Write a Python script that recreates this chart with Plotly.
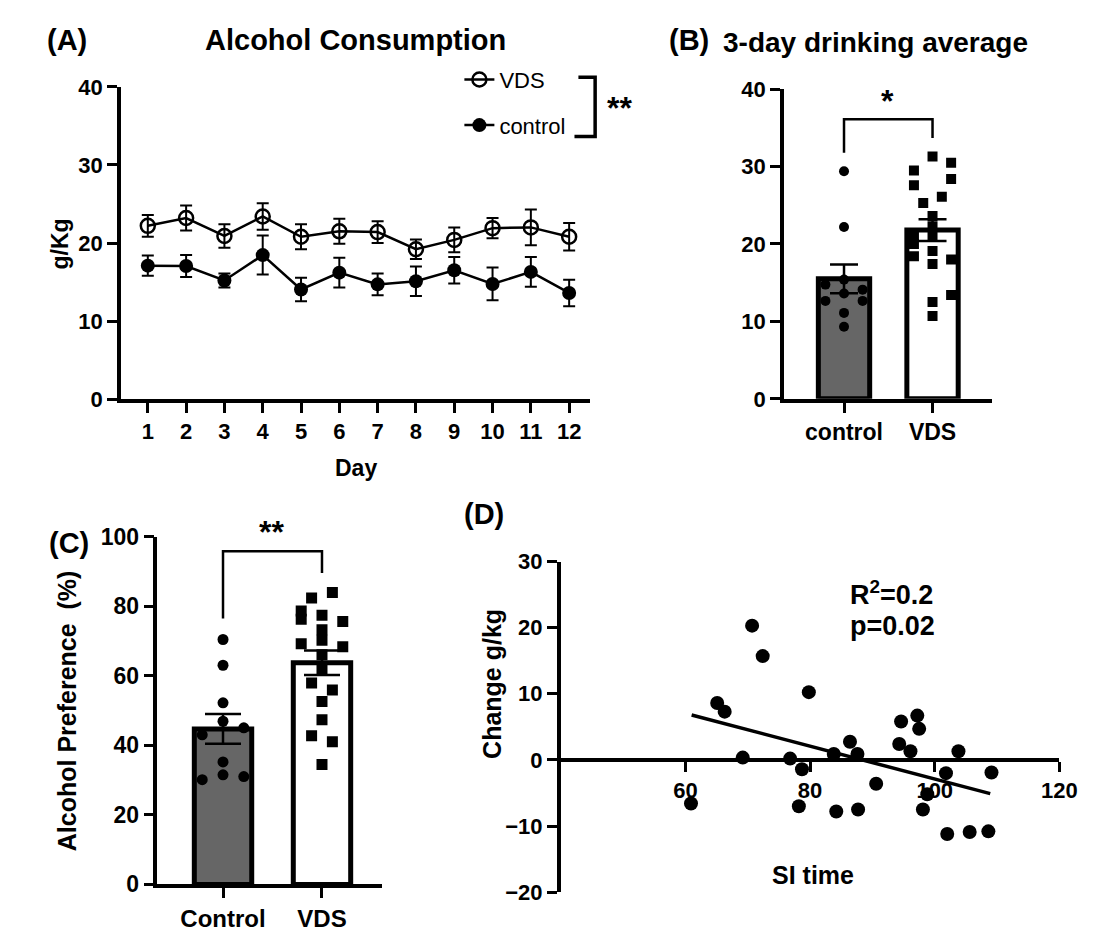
import plotly.graph_objects as go

W, H = 1104, 947
FONT = "Liberation Sans, Arial, sans-serif"

def px(x):
    return x / W

def py(y):
    return 1 - y / H

# ---------------- data ----------------
days = list(range(1, 13))
vds_mean = [22.2, 23.2, 20.9, 23.4, 20.8, 21.5, 21.4, 19.2, 20.4, 21.9, 22.0, 20.8]
vds_sem = [1.4, 1.6, 1.5, 1.7, 1.6, 1.6, 1.4, 1.25, 1.6, 1.3, 2.3, 1.75]
ctrl_mean = [17.1, 17.05, 15.2, 18.45, 14.05, 16.2, 14.7, 15.1, 16.5, 14.75, 16.3, 13.6]
ctrl_sem = [1.3, 1.4, 0.9, 2.5, 1.5, 1.9, 1.4, 1.9, 1.7, 2.1, 1.9, 1.7]

b_groups = ["control", "VDS"]
b_means = [15.5, 21.8]
b_sems = [1.85, 1.4]
b_ctrl_vals = [29.4, 22.2, 15.4, 14.75, 14.1, 13.6, 12.65, 12.65, 11.1, 9.3]
b_ctrl_col = [0, 0, 0, -1, 1, 0, -1, 1, 0, 0]
b_vds_vals = [31.3, 30.5, 29.5, 28.4, 27.6, 26.1, 25.3, 23.6, 22.3, 21.0,
              20.9, 20.0, 19.1, 18.4, 18.0, 17.4, 13.4, 12.5, 10.7]
b_vds_col = [0, 1, -1, 1, -1, 0.5, -0.5, 0, 0, 0,
             -1, -1, 0, -1, 1, 0, 1, 0, 0]

c_groups = ["Control", "VDS"]
c_means = [44.7, 63.7]
c_sems = [4.3, 3.5]
c_ctrl_vals = [70.4, 63.0, 52.2, 46.9, 45.0, 43.0, 35.2, 31.5, 31.0, 30.1]
c_ctrl_col = [0, 0, 0, 0, 1, -1, 0, 0, 1, -1]
c_vds_vals = [82.3, 83.9, 78.6, 76.2, 77.4, 75.6, 73.2, 70.2, 69.2, 68.3,
              66.0, 61.8, 57.9, 55.9, 52.6, 47.3, 42.7, 41.0, 34.5]
c_vds_col = [-0.5, 0.5, -1, -1, 0, 1, 0, 0, -1, 1,
             0, 0, -0.5, 0.5, 0, 0, -0.5, 0.5, 0]

si_time = [70.7, 72.4, 79.8, 65.1, 66.3, 69.2, 76.8, 78.7, 60.9, 78.2,
           84.2, 87.7, 86.4, 83.8, 87.6, 90.6, 94.6, 97.2, 97.5, 94.3,
           96.1, 103.8, 101.8, 109.1, 98.8, 98.1, 102.0, 105.6, 108.6]
change_gkg = [20.3, 15.7, 10.25, 8.6, 7.3, 0.35, 0.2, -1.4, -6.6, -7.0,
              -7.8, -7.5, 2.75, 0.9, 0.9, -3.6, 5.8, 6.7, 4.7, 2.4,
              1.3, 1.3, -2.0, -1.9, -5.2, -7.5, -11.2, -10.9, -10.8]
fit_x = [61.0, 108.9]
fit_y = [6.8, -5.1]

# ---------------- figure ----------------
fig = go.Figure()
JIT = 0.21

# Panel A
fig.add_trace(go.Scatter(
    x=days, y=vds_mean, mode="lines+markers", name="VDS", legendgroup="a",
    line=dict(color="black", width=2.5),
    marker=dict(symbol="circle-open", size=14, color="black", line=dict(width=2.5)),
    error_y=dict(type="data", array=vds_sem, color="black", thickness=2, width=6),
    xaxis="x", yaxis="y"))
fig.add_trace(go.Scatter(
    x=days, y=ctrl_mean, mode="lines+markers", name="control", legendgroup="b",
    line=dict(color="black", width=2.5),
    marker=dict(symbol="circle", size=14, color="black"),
    error_y=dict(type="data", array=ctrl_sem, color="black", thickness=2, width=6),
    xaxis="x", yaxis="y"))

# Panel B
fig.add_trace(go.Bar(
    x=[0, 1], y=b_means, width=0.58,
    marker=dict(color=["#666666", "white"], line=dict(color="black", width=5)),
    showlegend=False, xaxis="x2", yaxis="y2"))
fig.add_trace(go.Scatter(
    x=[0 + c * JIT for c in b_ctrl_col], y=b_ctrl_vals, mode="markers",
    marker=dict(symbol="circle", size=10, color="black"),
    showlegend=False, xaxis="x2", yaxis="y2"))
fig.add_trace(go.Scatter(
    x=[1 + c * JIT for c in b_vds_col], y=b_vds_vals, mode="markers",
    marker=dict(symbol="square", size=10, color="black"),
    showlegend=False, xaxis="x2", yaxis="y2"))
fig.add_trace(go.Scatter(
    x=[0, 1], y=b_means, mode="markers",
    marker=dict(size=1, color="rgba(0,0,0,0)"),
    error_y=dict(type="data", array=b_sems, color="black", thickness=2.5, width=14),
    showlegend=False, xaxis="x2", yaxis="y2"))

# Panel C
fig.add_trace(go.Bar(
    x=[0, 1], y=c_means, width=0.58,
    marker=dict(color=["#666666", "white"], line=dict(color="black", width=5)),
    showlegend=False, xaxis="x3", yaxis="y3"))
fig.add_trace(go.Scatter(
    x=[0 + c * JIT for c in c_ctrl_col], y=c_ctrl_vals, mode="markers",
    marker=dict(symbol="circle", size=11, color="black"),
    showlegend=False, xaxis="x3", yaxis="y3"))
fig.add_trace(go.Scatter(
    x=[1 + c * JIT for c in c_vds_col], y=c_vds_vals, mode="markers",
    marker=dict(symbol="square", size=11, color="black"),
    showlegend=False, xaxis="x3", yaxis="y3"))
fig.add_trace(go.Scatter(
    x=[0, 1], y=c_means, mode="markers",
    marker=dict(size=1, color="rgba(0,0,0,0)"),
    error_y=dict(type="data", array=c_sems, color="black", thickness=2.5, width=18),
    showlegend=False, xaxis="x3", yaxis="y3"))

# Panel D
fig.add_trace(go.Scatter(
    x=si_time, y=change_gkg, mode="markers",
    marker=dict(symbol="circle", size=14, color="black"),
    showlegend=False, xaxis="x4", yaxis="y4"))
fig.add_trace(go.Scatter(
    x=fit_x, y=fit_y, mode="lines", line=dict(color="black", width=3.5),
    showlegend=False, xaxis="x4", yaxis="y4"))

def tf(size):
    return dict(family=FONT, size=size, color="black", weight="bold")

axis_common = dict(showline=True, linecolor="black", linewidth=3.5, ticks="outside",
                   ticklen=10, tickwidth=3, tickcolor="black", showgrid=False,
                   zeroline=False, fixedrange=True)

fig.update_layout(
    width=W, height=H, margin=dict(l=0, r=0, t=0, b=0),
    paper_bgcolor="white", plot_bgcolor="rgba(0,0,0,0)",
    font=dict(family=FONT, color="black"),
    showlegend=True,
    legend=dict(x=px(467), y=py(47), xanchor="left", yanchor="top",
                font=dict(family=FONT, size=22, color="black"),
                bgcolor="rgba(0,0,0,0)", tracegroupgap=14, traceorder="grouped",
                itemwidth=30),
    xaxis=dict(domain=[px(123), px(600)], range=[0.3, 12.55], tickvals=days,
               anchor="y", tickfont=tf(22), **axis_common),
    yaxis=dict(domain=[py(397), py(76)], range=[0, 40], tickvals=[0, 10, 20, 30, 40],
               anchor="x", tickfont=tf(22), **axis_common),
    xaxis2=dict(domain=[px(797), px(1008)], range=[-0.678, 1.667], tickvals=[0, 1],
                ticktext=b_groups, anchor="y2", tickfont=tf(23), **axis_common),
    yaxis2=dict(domain=[py(396.7), py(78.3)], range=[0, 40], tickvals=[0, 10, 20, 30, 40],
                anchor="x2", tickfont=tf(22), **axis_common),
    xaxis3=dict(domain=[px(160), px(388)], range=[-0.663, 1.603], tickvals=[0, 1],
                ticktext=c_groups, anchor="y3", tickfont=tf(24), **axis_common),
    yaxis3=dict(domain=[py(896), py(538.3)], range=[0, 100],
                tickvals=[0, 20, 40, 60, 80, 100], anchor="x3", tickfont=tf(23),
                **axis_common),
    xaxis4=dict(domain=[px(570), px(1077)], range=[40, 120], tickvals=[60, 80, 100, 120],
                anchor="free", position=py(768), tickfont=tf(22), **axis_common),
    yaxis4=dict(domain=[py(904), py(564)], range=[-20, 30],
                tickvals=[-20, -10, 0, 10, 20, 30], anchor="x4", tickfont=tf(22),
                **axis_common),
)

LW = 3.5
shapes = []
# Panel A bracket (paper coords)
shapes.append(dict(type="path", xref="paper", yref="paper",
                   path=f"M {px(588)},{py(66)} L {px(605)},{py(66)} L {px(605)},{py(127)} L {px(584)},{py(127)}",
                   line=dict(color="black", width=LW)))
# Panel B bracket (data coords)
shapes.append(dict(type="path", xref="x2", yref="y2",
                   path="M 0,31.8 L 0,36.1 L 1,36.1 L 1,33.7",
                   line=dict(color="black", width=2.5)))
# Panel C bracket
shapes.append(dict(type="path", xref="x3", yref="y3",
                   path="M 0,76.4 L 0,95.8 L 1,95.8 L 1,89.5",
                   line=dict(color="black", width=2.5)))
fig.update_layout(shapes=shapes)

def ann(text, x, y, size, xanchor="center", yanchor="middle", angle=0, bold=True):
    return dict(text=text, x=px(x), y=py(y), xref="paper", yref="paper",
                xanchor=xanchor, yanchor=yanchor, showarrow=False, textangle=angle,
                font=dict(family=FONT, size=size, color="black",
                          weight="bold" if bold else "normal"))

annotations = [
    ann("(A)", 46, 28, 29, xanchor="left"),
    ann("Alcohol Consumption", 361, 28, 29),
    ann("(B)", 678, 28, 29, xanchor="left"),
    ann("3-day drinking average", 890, 30, 28),
    ann("(C)", 48, 545, 29, xanchor="left"),
    ann("(D)", 470, 515, 29, xanchor="left"),
    ann("g/Kg", 62, 237, 23, angle=-90),
    ann("Day", 362, 468, 23),
    ann("**", 630, 98, 32),
    ann("*", 902, 90, 32),
    ann("**", 276, 534, 32),
    ann("Alcohol Preference  (%)", 68, 717, 25, angle=-90),
    ann("Change g/kg", 500, 690, 25, angle=-90),
    ann("SI time", 826, 886, 25),
    ann("R<sup>2</sup>=0.2", 862, 596, 27, xanchor="left"),
    ann("p=0.02", 862, 630, 27, xanchor="left"),
]
fig.update_layout(annotations=annotations)

fig.write_html("out.html")
